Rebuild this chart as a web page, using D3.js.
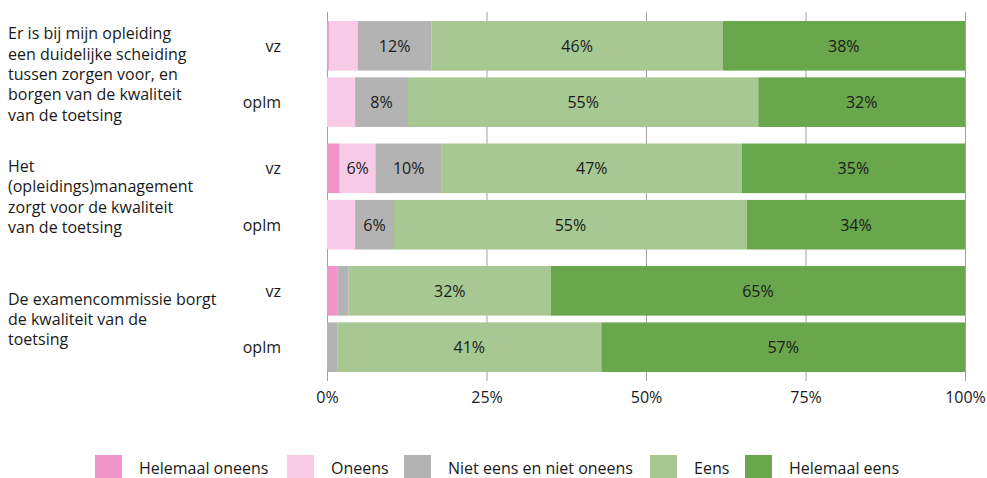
<!DOCTYPE html>
<html>
<head>
<meta charset="utf-8">
<script src="https://cdn.jsdelivr.net/npm/d3@7"></script>
<style>
  body { margin: 0; background: #fff; }
  text { font-family: "Open Sans", sans-serif; fill: #1a1a1a; }
</style>
</head>
<body>
<div id="chart"></div>
<script>
"use strict"

let width = 987;
let height = 478;

/* data */
let questions = [
    ["Er is bij mijn opleiding", "een duidelijke scheiding", "tussen zorgen voor, en", "borgen van de kwaliteit", "van de toetsing"],
    ["Het", "(opleidings)management", "zorgt voor de kwaliteit", "van de toetsing"],
    ["De examencommissie borgt", "de kwaliteit van de", "toetsing"]
];
let respondents = ["vz", "oplm"];
let answers = ["Helemaal oneens", "Oneens", "Niet eens en niet oneens", "Eens", "Helemaal eens"];
let colors = ["#f094ca", "#f8cce7", "#b3b3b3", "#a7c892", "#6aa64b"];
let ticks = [0, 25, 50, 75, 100];

let vzValues = [
    [0.3, 4.5, 11.6, 45.6, 38.0],
    [2.0, 5.6, 10.4, 47.0, 35.0],
    [1.6, 0, 1.8, 31.7, 64.9]
];
let oplmValues = [
    [0, 4.4, 8.3, 54.9, 32.4],
    [0, 4.4, 6.1, 55.3, 34.2],
    [0, 0, 1.6, 41.4, 57.0]
];

let fontSize = 16;

/* build rows for the stack */
let rows = [];
questions.forEach(function (q, i) {
    [vzValues[i], oplmValues[i]].forEach(function (vals, j) {
        let row = { question: i, group: respondents[j] };
        answers.forEach(function (a, k) { row[a] = vals[k]; });
        rows.push(row);
    });
});

let svg = d3.select("#chart")
    .append("svg")
    .attr("width", width)
    .attr("height", height);

let x = d3.scaleLinear()
    .domain([0, 100])
    .range([327, 965]);

let yGroup = d3.scaleBand()
    .domain(d3.range(questions.length))
    .range([21, 372])
    .paddingInner(0.135)
    .paddingOuter(0);

let yRow = d3.scaleBand()
    .domain(respondents)
    .range([0, yGroup.bandwidth()])
    .paddingInner(0.12)
    .paddingOuter(0);

function rowY(d) {
    return yGroup(d.question) + yRow(d.group);
}

/* grid lines */
svg.append("g")
    .selectAll("line")
    .data(ticks)
    .join("line")
    .attr("x1", d => x(d) + 0.5)
    .attr("x2", d => x(d) + 0.5)
    .attr("y1", 12)
    .attr("y2", 381)
    .attr("stroke", "#a0a0a0")
    .attr("stroke-width", 1);

/* stacked bars */
let stack = d3.stack().keys(answers);
let series = stack(rows);

let layers = svg.append("g")
    .selectAll("g")
    .data(series)
    .join("g")
    .attr("fill", (d, i) => colors[i]);

layers.selectAll("rect")
    .data(d => d)
    .join("rect")
    .attr("x", d => x(d[0]))
    .attr("width", d => x(d[1]) - x(d[0]))
    .attr("y", d => rowY(d.data))
    .attr("height", yRow.bandwidth());

/* value labels */
layers.selectAll("text")
    .data(d => d.filter(p => p[1] - p[0] >= 5))
    .join("text")
    .attr("x", d => (x(d[0]) + x(d[1])) / 2)
    .attr("y", d => rowY(d.data) + yRow.bandwidth() / 2)
    .attr("text-anchor", "middle")
    .attr("dominant-baseline", "central")
    .attr("font-size", fontSize)
    .text(d => Math.round(d[1] - d[0]) + "%");

/* respondent labels */
svg.append("g")
    .selectAll("text")
    .data(rows)
    .join("text")
    .attr("x", 281)
    .attr("y", d => rowY(d) + yRow.bandwidth() / 2)
    .attr("text-anchor", "end")
    .attr("dominant-baseline", "central")
    .attr("font-size", fontSize)
    .text(d => d.group);

/* question labels */
let lineHeight = 20.3;
let qLabels = svg.append("g")
    .selectAll("text")
    .data(questions)
    .join("text")
    .attr("x", 8)
    .attr("font-size", fontSize);

qLabels.selectAll("tspan")
    .data((d, i) => d.map(t => ({ text: t, n: d.length, q: i })))
    .join("tspan")
    .attr("x", 8)
    .attr("y", (d, i) => yGroup(d.q) + yGroup.bandwidth() / 2 + (i - (d.n - 1) / 2) * lineHeight)
    .attr("dominant-baseline", "central")
    .text(d => d.text);

/* x axis */
let xAxis = svg.append("g")
    .attr("transform", "translate(0,388)")
    .call(d3.axisBottom(x).tickValues(ticks).tickFormat(d => d + "%").tickSize(0).tickPadding(0));

xAxis.select(".domain").remove();
xAxis.selectAll("text")
    .attr("font-size", fontSize)
    .attr("dy", "0.32em")
    .attr("y", 10)
    .style("font-family", "Open Sans, sans-serif")
    .attr("fill", "#1a1a1a");

/* legend */
let legendX = [95, 287, 404, 650, 745];
let legend = svg.append("g")
    .selectAll("g")
    .data(answers)
    .join("g")
    .attr("transform", (d, i) => "translate(" + legendX[i] + ",455)");

legend.append("rect")
    .attr("width", 27)
    .attr("height", 23)
    .attr("fill", (d, i) => colors[i]);

legend.append("text")
    .attr("x", 44)
    .attr("y", 12.5)
    .attr("dominant-baseline", "central")
    .attr("font-size", fontSize)
    .text(d => d);
</script>
</body>
</html>
